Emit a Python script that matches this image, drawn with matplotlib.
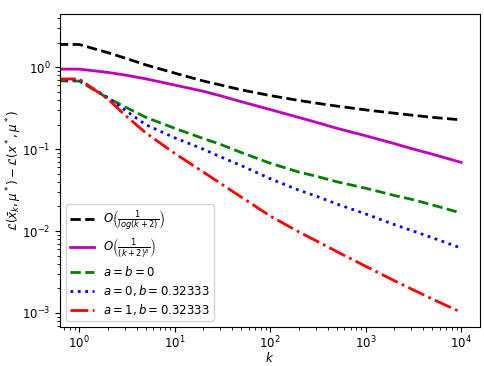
import numpy as np
from matplotlib import pyplot as plt

# iterations k (k=0 falls off the log axis, like the original run)
k = [0, 1, 2, 3, 5, 10, 20, 30, 50, 100, 200, 300, 500, 1000, 2000, 3000, 5000, 10000]

bound_log = [3.0, 1.9, 1.51, 1.30, 1.07, 0.85, 0.68, 0.61, 0.53, 0.452, 0.394, 0.366,
             0.336, 0.302, 0.275, 0.261, 0.245, 0.228]
bound_pow = [1.08, 0.95, 0.866, 0.806, 0.723, 0.607, 0.51, 0.45, 0.38, 0.305, 0.244, 0.214,
             0.18, 0.146, 0.117, 0.102, 0.087, 0.069]
err_ab0 = [0.69, 0.68, 0.42, 0.33, 0.245, 0.18, 0.135, 0.115, 0.091, 0.0675, 0.0525, 0.047,
           0.040, 0.0334, 0.0272, 0.0245, 0.0209, 0.0166]
err_a0 = [0.70, 0.70, 0.427, 0.302, 0.199, 0.138, 0.10, 0.081, 0.063, 0.0437, 0.0316, 0.0269,
          0.0214, 0.0162, 0.0120, 0.0102, 0.0083, 0.0062]
err_a1 = [0.72, 0.72, 0.41, 0.263, 0.158, 0.0891, 0.0525, 0.0385, 0.026, 0.0153, 0.00977, 0.00767,
          0.00562, 0.00372, 0.00248, 0.00197, 0.00148, 0.00102]

fig = plt.figure(figsize=(4.84, 3.66), dpi=100)
ax = fig.add_axes([0.124, 0.106, 0.868, 0.856])

ax.plot(k, bound_log, 'k--', linewidth=2, label=r'$O\left(\frac{1}{log(k+2)}\right)$')
ax.plot(k, bound_pow, 'm-', linewidth=2, label=r'$O\left(\frac{1}{(k+2)^\delta}\right)$')
ax.plot(k, err_ab0, 'g--', linewidth=2, label=r'$a=b=0$')
ax.plot(k, err_a0, 'b:', linewidth=2, label=r'$a=0, b=0.32333$')
ax.plot(k, err_a1, 'r-.', linewidth=2, label=r'$a=1, b=0.32333$')

ax.set_xscale('log')
ax.set_yscale('log')
ax.set_xlim(10**-0.2, 10**4.2)
ax.set_ylim(10**-3.174, 10**0.652)
ax.tick_params(labelsize=8.5)
ax.tick_params(axis='x', pad=2)
ax.set_xlabel(r'$k$', fontsize=8.5)
ax.xaxis.set_label_coords(0.5, -0.077)
ax.set_ylabel(r'$\mathcal{L}(\bar{x}_k,\mu^*)-\mathcal{L}(x^*,\mu^*)$', fontsize=8.5)
ax.yaxis.set_label_coords(-0.085, 0.5)
ax.legend(loc='lower left', fontsize=8.5, labelspacing=0.35, borderpad=0.35)

plt.savefig('out.png')
